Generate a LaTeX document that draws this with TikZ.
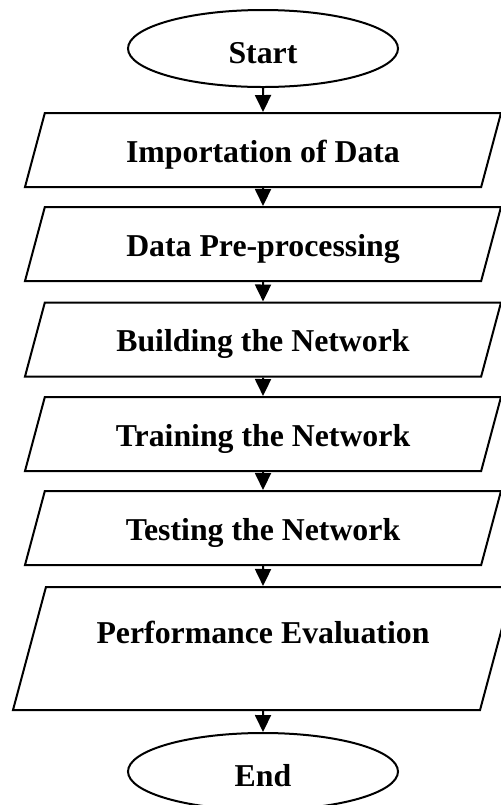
\documentclass[tikz,border=0pt]{standalone}
\usepackage{fontspec}
\setmainfont{Liberation Serif}
\usepackage{tikz}
\usetikzlibrary{arrows.meta, shapes.geometric}
\tikzset{
  termNode/.style={
    draw=black,
    ellipse,
    line width=1pt,
    fill=white,
    minimum width=135pt,
    minimum height=38.5pt,
    inner sep=0pt,
    text height=14.5pt,
    text depth=0pt,
    font=\fontsize{15.9}{19}\selectfont\bfseries
  },
  ioNode/.style={
    draw=black,
    trapezium,
    trapezium left angle=75,
    trapezium right angle=105,
    trapezium stretches body,
    line width=1pt,
    fill=white,
    minimum width=238pt,
    minimum height=37pt,
    inner xsep=0pt,
    inner ysep=12.5pt,
    text height=12pt,
    text depth=0pt,
    font=\fontsize{15.9}{19}\selectfont\bfseries
  },
  every edge/.style={
    draw=black,
    line width=1pt,
    -{Triangle[length=8.5pt,width=8pt]}
  }
}

\begin{document}
\begin{tikzpicture}
  \useasboundingbox (0,0) rectangle (250pt,-402.5pt);
  % Flow of steps, top to bottom
  \node[termNode] (start) at (131.5pt,-24.25pt) {Start};
  \node[ioNode] (import) at (131.5pt,-75pt) {Importation of Data};
  \node[ioNode] (prep) at (131.5pt,-122pt) {Data Pre-processing};
  \node[ioNode] (build) at (131.5pt,-169.75pt) {Building the Network};
  \node[ioNode] (train) at (131.5pt,-217pt) {Training the Network};
  \node[ioNode] (test) at (131.5pt,-264pt) {Testing the Network};
  \node[ioNode, minimum width=250pt, minimum height=61.5pt, inner ysep=16.25pt, text depth=17pt] (perf) at (131.5pt,-324.25pt) {Performance Evaluation};
  \node[termNode] (end) at (131.5pt,-385.75pt) {End};
  \path (start) edge (import)
        (import) edge (prep)
        (prep) edge (build)
        (build) edge (train)
        (train) edge (test)
        (test) edge (perf)
        (perf) edge (end);
\end{tikzpicture}
\end{document}
